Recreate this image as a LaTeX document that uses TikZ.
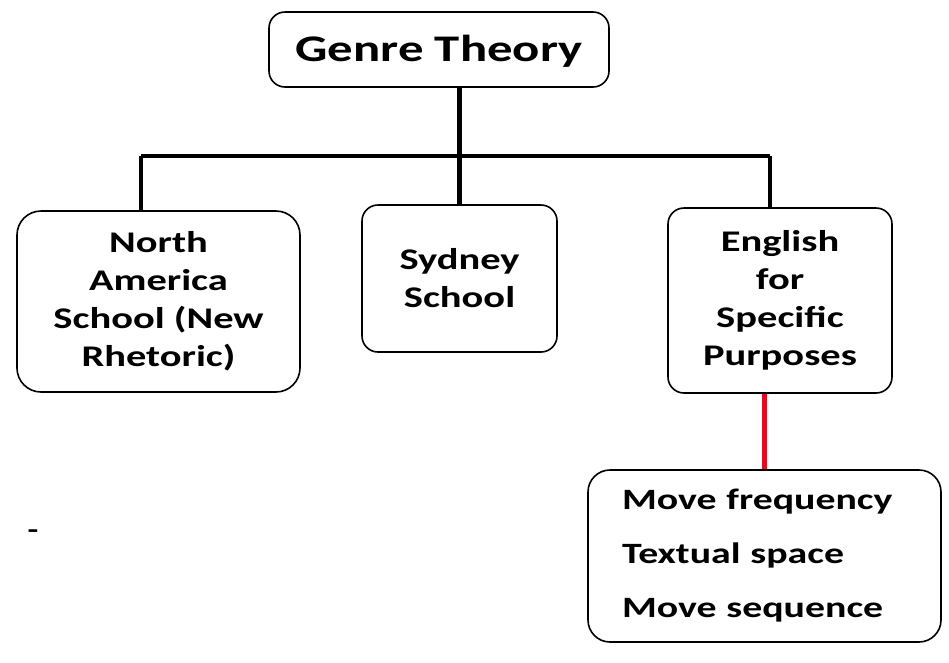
\documentclass[tikz,border=0pt]{standalone}
\usepackage{fontspec}
\setmainfont{Carlito}[FakeStretch=1.35]
\begin{document}
\begin{tikzpicture}[x=1pt,y=-1pt,
  box/.style={draw=black,line width=1.6pt,rounded corners=16pt,fill=white,align=center,inner sep=0pt},
  bodytext/.style={font=\fontsize{30}{38}\selectfont\bfseries},
  conn/.style={line width=4.5pt},
  redconn/.style={line width=4.5pt,draw={rgb,255:red,230;green,10;blue,30}}]
\useasboundingbox (0,0) rectangle (949,662);
\node[box,minimum width=340pt,minimum height=75pt,text depth=2pt,font=\fontsize{37.6}{40}\selectfont\bfseries] (genre) at (439,49.5) {Genre Theory};
\node[box,bodytext,minimum width=283pt,minimum height=181pt,rounded corners=24pt] (na) at (158.5,301.5) {North\\America\\School (New\\Rhetoric)};
\node[box,bodytext,minimum width=195pt,minimum height=147pt] (syd) at (459.5,278.5) {Sydney\\School};
\node[box,bodytext,minimum width=224pt,minimum height=185pt] (esp) at (780,300.5) {English\\for\\Specific\\Purposes};
\node[box,font=\fontsize{29.5}{54}\selectfont\bfseries,align=left,inner xsep=34pt,text width=285pt,minimum height=172pt,rounded corners=22pt] (moves) at (764.5,556) {Move frequency\\Textual space\\Move sequence};
\node[font=\fontsize{26}{30}\selectfont\bfseries] (dash) at (33,534) {-};
\coordinate (barL) at (141,156);
\coordinate (barR) at (770,156);
\draw[conn] (barL) -- (barR);
\draw[conn] (barL) -- (barL |- na.north);
\draw[conn] (barR) -- (barR |- esp.north);
\draw[conn] (genre.south -| syd.north) -- (syd.north);
\draw[redconn] (esp.south -| moves.north) -- (moves.north);
\end{tikzpicture}
\end{document}
